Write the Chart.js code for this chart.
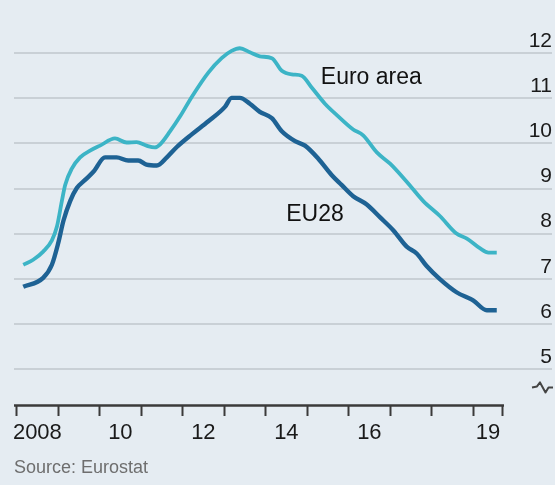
<!DOCTYPE html>
<html><head><meta charset="utf-8">
<script src="https://cdn.jsdelivr.net/npm/chart.js@4.4.1/dist/chart.umd.min.js"></script>
<style>
html,body{margin:0;padding:0;background:#e5ecf2;overflow:hidden;}
canvas{display:block;}
</style></head><body>
<canvas id="c" width="555" height="485"></canvas>
<script>
// ---- data ----
const euroAreaYears = [2008.16,2008.40,2008.64,2008.85,2008.97,2009.09,2009.17,2009.33,2009.53,2009.77,2010.01,2010.37,2010.65,2010.89,2011.13,2011.33,2011.46,2011.70,2011.94,2012.22,2012.62,2012.94,2013.18,2013.38,2013.62,2013.86,2014.15,2014.39,2014.63,2014.87,2015.11,2015.43,2015.75,2016.11,2016.35,2016.68,2017.00,2017.40,2017.80,2018.20,2018.60,2018.85,2019.17,2019.37,2019.57];
const euroAreaRates = [7.31,7.42,7.60,7.85,8.15,8.72,9.08,9.44,9.69,9.84,9.95,10.11,10.02,10.03,9.95,9.91,9.98,10.27,10.60,11.03,11.57,11.89,12.05,12.11,12.02,11.93,11.89,11.61,11.53,11.50,11.24,10.88,10.60,10.31,10.18,9.80,9.55,9.15,8.72,8.39,8.00,7.89,7.67,7.58,7.58];
const eu28Years = [2008.16,2008.64,2008.85,2009.00,2009.13,2009.29,2009.45,2009.65,2009.85,2010.13,2010.41,2010.69,2010.93,2011.13,2011.38,2011.62,2011.86,2012.22,2012.62,2013.02,2013.18,2013.38,2013.62,2013.86,2014.15,2014.39,2014.71,2014.95,2015.27,2015.59,2015.83,2016.11,2016.43,2016.76,2017.08,2017.40,2017.64,2017.88,2018.20,2018.60,2019.00,2019.33,2019.57];
const eu28Rates = [6.82,7.02,7.31,7.78,8.29,8.72,9.01,9.19,9.37,9.69,9.69,9.62,9.62,9.53,9.51,9.69,9.92,10.20,10.49,10.81,11.01,11.01,10.88,10.70,10.56,10.27,10.05,9.95,9.66,9.30,9.08,8.83,8.65,8.36,8.07,7.71,7.56,7.28,6.99,6.70,6.52,6.30,6.30];
const yTicks = [5,6,7,8,9,10,11,12];
const yearBoundaries = [2008,2009,2010,2011,2012,2013,2014,2015,2016,2017,2018,2019];
const axisEndYear = 2019.72;
const xLabelPositions = [2008.5,2010.5,2012.5,2014.5,2016.5,2019.36];
const xLabels = ['2008','10','12','14','16','19'];
const seriesNames = ['Euro area','EU28'];
const sourceNote = 'Source: Eurostat';

const FONT = '"Liberation Sans", Arial, sans-serif';
const toPts = (xs, ys) => xs.map((x, i) => ({x: x, y: ys[i]}));
const isBoundary = v => yearBoundaries.includes(v) || v === axisEndYear;

const annot = {
  id: 'annot',
  afterDatasetsDraw(chart) {
    const {ctx, chartArea, scales: {x, y}} = chart;
    ctx.save();
    // x-axis baseline (ends at the last tick)
    ctx.strokeStyle = '#3a3a3a';
    ctx.lineWidth = 2.5;
    ctx.beginPath();
    ctx.moveTo(x.left, chartArea.bottom + 0.5);
    ctx.lineTo(x.getPixelForValue(axisEndYear) + 1, chartArea.bottom + 0.5);
    ctx.stroke();
    // series labels
    ctx.fillStyle = '#111';
    ctx.font = '23px ' + FONT;
    ctx.textAlign = 'center';
    ctx.textBaseline = 'alphabetic';
    ctx.fillText(seriesNames[0], x.getPixelForValue(2016.547), y.getPixelForValue(11.307));
    ctx.fillText(seriesNames[1], x.getPixelForValue(2015.19), y.getPixelForValue(8.276));
    // axis break mark
    const by = y.getPixelForValue(4.59), bx = chartArea.right;
    ctx.strokeStyle = '#444';
    ctx.lineWidth = 2;
    ctx.lineJoin = 'round';
    ctx.beginPath();
    ctx.moveTo(bx - 20, by);
    ctx.lineTo(bx - 15, by - 1);
    ctx.lineTo(bx - 12, by - 5);
    ctx.lineTo(bx - 6.5, by + 5);
    ctx.lineTo(bx - 3.5, by);
    ctx.lineTo(bx + 1, by);
    ctx.stroke();
    ctx.restore();
  }
};

new Chart(document.getElementById('c'), {
  type: 'line',
  data: {
    datasets: [
      {label: seriesNames[0], data: toPts(euroAreaYears, euroAreaRates), borderColor: '#3cb4c6', borderWidth: 3.8, pointRadius: 0, cubicInterpolationMode: 'monotone', fill: false},
      {label: seriesNames[1], data: toPts(eu28Years, eu28Rates), borderColor: '#1e6294', borderWidth: 4.4, pointRadius: 0, cubicInterpolationMode: 'monotone', fill: false}
    ]
  },
  options: {
    responsive: false,
    animation: false,
    events: [],
    layout: {padding: {left: 14, right: 3, top: 3.1, bottom: 0}},
    plugins: {
      legend: {display: false},
      tooltip: {enabled: false},
      title: {
        display: true, text: sourceNote, position: 'bottom', align: 'start',
        color: '#6e6e6e', font: {family: FONT, size: 18, weight: 'normal', lineHeight: 1.2},
        padding: {top: 0, bottom: 6.4}
      }
    },
    scales: {
      x: {
        type: 'linear', position: 'bottom', min: 2007.937, max: 2020.901,
        afterBuildTicks: ax => {
          ax.ticks = yearBoundaries.concat([axisEndYear], xLabelPositions)
            .sort((a, b) => a - b).map(v => ({value: v}));
        },
        afterFit: ax => { ax.height = 52; },
        border: {display: false},
        grid: {
          display: true, drawOnChartArea: false, drawTicks: true, tickLength: 11, tickWidth: 2,
          tickColor: c => (c.tick && isBoundary(c.tick.value)) ? '#3a3a3a' : 'rgba(0,0,0,0)'
        },
        ticks: {
          autoSkip: false, maxRotation: 0, padding: 4, color: '#1a1a1a',
          font: {family: FONT, size: 22},
          callback: v => { const i = xLabelPositions.indexOf(v); return i >= 0 ? xLabels[i] : ''; }
        }
      },
      y: {
        type: 'linear', position: 'right', min: 4.2, max: 12.9,
        afterBuildTicks: ax => { ax.ticks = yTicks.map(v => ({value: v})); },
        afterFit: ax => { ax.width = 0; },
        border: {display: false},
        grid: {color: '#c9d0d6', lineWidth: 2, drawTicks: false},
        ticks: {
          mirror: true, padding: 0, labelOffset: -12, color: '#1a1a1a',
          font: {family: FONT, size: 21},
          callback: v => String(v)
        }
      }
    }
  },
  plugins: [annot]
});
</script>
</body></html>
